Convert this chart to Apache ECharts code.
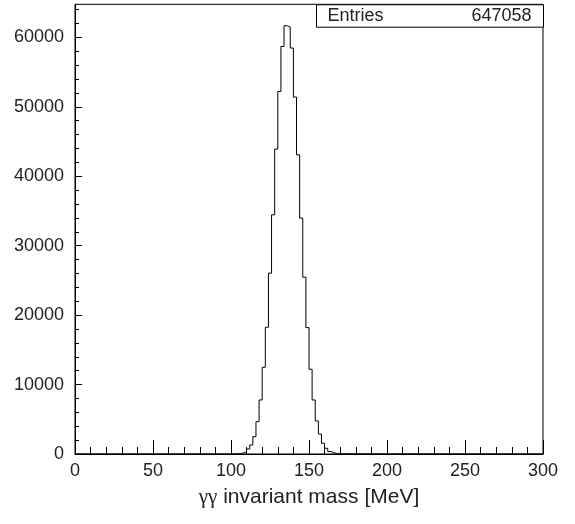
<!DOCTYPE html>
<html>
<head>
<meta charset="utf-8">
<script src="https://cdn.jsdelivr.net/npm/echarts@6/dist/echarts.min.js"></script>
<style>
  html, body { margin: 0; padding: 0; background: #fff; }
  #chart { width: 575px; height: 524px; }
</style>
</head>
<body>
<div id="chart"></div>
<script>
// Diphoton invariant-mass histogram, 2 MeV bins over 0–300 MeV.
// Bins outside the listed range are empty.
const binLow = [100, 102, 104, 106, 108, 110, 112, 114, 116, 118,
                120, 122, 124, 126, 128, 130, 132, 134, 136, 138,
                140, 142, 144, 146, 148, 150, 152, 154, 156, 158,
                160, 162, 164, 166, 168, 170];
const counts = [10, 20, 50, 144, 331, 720, 1297, 2493, 4654, 7781,
                12493, 18257, 26039, 34440, 43907, 52207, 58692, 61675, 61487, 58461,
                51400, 43086, 33965, 25462, 18200, 12205, 7781, 4755, 2882, 1542,
                821, 360, 170, 80, 40, 20];
const binWidth = 2;
const xRange = [0, 300];
const entries = 647058;

const xTicks = [0, 50, 100, 150, 200, 250, 300];
const yMajorTicks = [0, 10000, 20000, 30000, 40000, 50000, 60000];
const yMinorTicks = [2000, 4000, 6000, 8000, 12000, 14000, 16000, 18000,
                     22000, 24000, 26000, 28000, 32000, 34000, 36000, 38000,
                     42000, 44000, 46000, 48000, 52000, 54000, 56000, 58000,
                     62000, 64000];

// Frame headroom: 5% above the tallest bin
const yMax = Math.max(...counts) * 1.05;

// Step-line points at bin low edges, closed on both sides to zero
const stepData = [[xRange[0], 0]];
binLow.forEach((x, i) => stepData.push([x, counts[i]]));
stepData.push([binLow[binLow.length - 1] + binWidth, 0]);
stepData.push([xRange[1], 0]);

const FONT = '"Liberation Sans", Arial, Helvetica, sans-serif';
const SERIF = '"Liberation Serif", "DejaVu Serif", serif';
const INK = '#000';
const TEXT = '#222';

const chart = echarts.init(document.getElementById('chart'), null, { renderer: 'canvas' });

chart.setOption({
  animation: false,
  backgroundColor: '#fff',
  grid: {
    left: 75, right: 32, top: 4.3, bottom: 70,
    show: true, borderColor: INK, borderWidth: 1, backgroundColor: 'transparent'
  },
  xAxis: {
    type: 'value',
    min: xRange[0], max: xRange[1], interval: 50,
    name: '{g|γγ} invariant mass [MeV]',
    nameLocation: 'middle',
    nameGap: 33,
    nameTextStyle: {
      fontFamily: FONT, fontSize: 21, color: TEXT,
      rich: { g: { fontFamily: SERIF, fontSize: 21, color: TEXT } }
    },
    axisLine: { show: true, onZero: false, lineStyle: { color: INK, width: 1 } },
    axisTick: { show: true, inside: true, length: 14, lineStyle: { color: INK, width: 1 } },
    minorTick: { show: true, splitNumber: 5, length: 7, lineStyle: { color: INK, width: 1 } },
    axisLabel: {
      show: true, margin: 8, fontFamily: FONT, fontSize: 18, color: TEXT,
      customValues: xTicks, showMinLabel: true, showMaxLabel: true
    },
    splitLine: { show: false },
    minorSplitLine: { show: false }
  },
  yAxis: [
    {
      type: 'value',
      min: 0, max: yMax,
      axisLine: { show: true, onZero: false, lineStyle: { color: INK, width: 1 } },
      axisTick: { show: true, inside: true, length: 7, customValues: yMajorTicks, lineStyle: { color: INK, width: 1 } },
      axisLabel: {
        show: true, margin: 11, fontFamily: FONT, fontSize: 18, color: TEXT,
        customValues: yMajorTicks, formatter: v => String(v)
      },
      splitLine: { show: false }
    },
    {
      type: 'value',
      position: 'left',
      min: 0, max: yMax,
      axisLine: { show: false },
      axisTick: { show: true, inside: true, length: 4, customValues: yMinorTicks, lineStyle: { color: INK, width: 1 } },
      axisLabel: { show: false },
      splitLine: { show: false }
    }
  ],
  series: [{
    type: 'line',
    yAxisIndex: 0,
    step: 'end',
    data: stepData,
    showSymbol: false,
    symbol: 'none',
    lineStyle: { color: INK, width: 1 },
    z: 3
  }],
  graphic: [{
    type: 'group',
    left: 316, top: 4.3,
    children: [
      { type: 'rect', shape: { x: 0, y: 0, width: 227, height: 22.4 },
        style: { fill: '#fff', stroke: INK, lineWidth: 1 } },
      { type: 'text', x: 11, y: 11.5,
        style: { text: 'Entries', font: '18px ' + FONT, fill: TEXT, textVerticalAlign: 'middle', textAlign: 'left' } },
      { type: 'text', x: 215, y: 11.5,
        style: { text: String(entries), font: '18px ' + FONT, fill: TEXT, textVerticalAlign: 'middle', textAlign: 'right' } }
    ]
  }]
});
</script>
</body>
</html>
